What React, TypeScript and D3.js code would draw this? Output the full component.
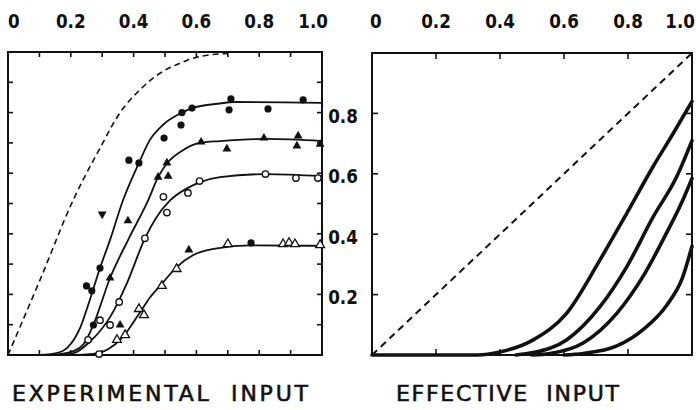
import * as d3 from "d3";
import {useEffect, useRef} from "react";

const W = 696;
const H = 410;

// axis labels
const topTicks = [0, 0.2, 0.4, 0.6, 0.8, 1.0];
const topTickLabels = ["0", "0.2", "0.4", "0.6", "0.8", "1.0"];
const sideTicks = [0.2, 0.4, 0.6, 0.8];
const sideTickLabels = ["0.2", "0.4", "0.6", "0.8"];
const leftTitle = "EXPERIMENTAL  INPUT";
const rightTitle = "EFFECTIVE  INPUT";

// left panel: dashed reference curve and fitted curves
const leftDashed = [[0, 0], [0.102, 0.248], [0.207, 0.51], [0.293, 0.683], [0.357, 0.8], [0.42, 0.875], [0.484, 0.93], [0.548, 0.963], [0.61, 0.985], [0.7, 0.995]];
const fit1 = [[0.1, 0], [0.15, 0.005], [0.19, 0.025], [0.23, 0.09], [0.26, 0.18], [0.293, 0.287], [0.325, 0.38], [0.366, 0.51], [0.417, 0.634], [0.452, 0.71], [0.494, 0.76], [0.554, 0.8], [0.586, 0.815], [0.675, 0.83], [0.72, 0.835], [1.0, 0.832]];
const fit2 = [[0.14, 0], [0.2, 0.01], [0.24, 0.035], [0.272, 0.1], [0.325, 0.254], [0.385, 0.385], [0.447, 0.512], [0.478, 0.587], [0.51, 0.637], [0.557, 0.676], [0.61, 0.7], [0.675, 0.706], [0.825, 0.713], [1.0, 0.706]];
const fit3 = [[0.16, 0], [0.207, 0.005], [0.26, 0.043], [0.325, 0.125], [0.38, 0.24], [0.436, 0.385], [0.47, 0.45], [0.516, 0.51], [0.57, 0.55], [0.61, 0.57], [0.675, 0.587], [0.82, 0.597], [1.0, 0.59]];
const fit4 = [[0.22, 0], [0.29, 0.007], [0.32, 0.02], [0.366, 0.06], [0.42, 0.14], [0.452, 0.19], [0.49, 0.235], [0.537, 0.29], [0.59, 0.33], [0.665, 0.352], [0.77, 0.362], [1.0, 0.36]];

// left panel: measured points
const filledCircles = [[0.25, 0.228], [0.267, 0.212], [0.272, 0.099], [0.293, 0.287], [0.385, 0.643], [0.417, 0.634], [0.497, 0.716], [0.551, 0.759], [0.554, 0.8], [0.586, 0.815], [0.704, 0.809], [0.71, 0.845], [0.774, 0.37], [0.828, 0.812], [0.94, 0.842]];
const filledDown = [[0.3, 0.465]];
const filledTriangles = [[0.325, 0.254], [0.357, 0.099], [0.382, 0.443], [0.478, 0.587], [0.506, 0.634], [0.51, 0.59], [0.576, 0.347], [0.615, 0.703], [0.697, 0.68], [0.815, 0.716], [0.924, 0.723], [0.92, 0.69], [0.994, 0.696]];
const openCircles = [[0.255, 0.05], [0.29, 0.003], [0.293, 0.115], [0.325, 0.099], [0.354, 0.175], [0.436, 0.385], [0.495, 0.522], [0.506, 0.47], [0.573, 0.535], [0.61, 0.574], [0.82, 0.597], [0.917, 0.584], [0.987, 0.584]];
const openTriangles = [[0.347, 0.05], [0.373, 0.066], [0.417, 0.152], [0.433, 0.132], [0.49, 0.228], [0.537, 0.284], [0.7, 0.366], [0.876, 0.366], [0.895, 0.37], [0.914, 0.366], [0.994, 0.363]];

// right panel curves
const rightDashed = [[0, 0], [1, 1]];
const effA = [[0, 0], [0.33, 0], [0.4, 0.01], [0.504, 0.05], [0.608, 0.138], [0.7125, 0.315], [0.796, 0.469], [0.879, 0.625], [0.942, 0.735], [1.0, 0.84]];
const effB = [[0.45, 0], [0.504, 0.008], [0.608, 0.05], [0.7125, 0.16], [0.796, 0.292], [0.879, 0.458], [0.952, 0.59], [1.0, 0.71]];
const effC = [[0.5, 0], [0.556, 0.005], [0.66, 0.04], [0.765, 0.138], [0.848, 0.262], [0.921, 0.405], [0.97, 0.51], [1.0, 0.585]];
const effD = [[0.6, 0], [0.66, 0.005], [0.765, 0.03], [0.848, 0.085], [0.921, 0.165], [0.97, 0.255], [1.0, 0.36]];

const font = "'DejaVu Sans', sans-serif";

const drawFrame = (g, x, y, ticks, len) => {
    g.append("rect")
        .attr("x", x(0)).attr("y", y(1))
        .attr("width", x(1) - x(0)).attr("height", y(0) - y(1))
        .attr("fill", "none").attr("stroke", "#111").attr("stroke-width", 2);
    const tk = g.append("g").attr("stroke", "#111").attr("stroke-width", 1.6);
    ticks.forEach(t => {
        tk.append("line").attr("x1", x(t)).attr("x2", x(t)).attr("y1", y(1)).attr("y2", y(1) + len);
        tk.append("line").attr("x1", x(t)).attr("x2", x(t)).attr("y1", y(0)).attr("y2", y(0) - len);
        tk.append("line").attr("y1", y(t)).attr("y2", y(t)).attr("x1", x(0)).attr("x2", x(0) + len);
        tk.append("line").attr("y1", y(t)).attr("y2", y(t)).attr("x1", x(1)).attr("x2", x(1) - len);
    });
};

// text placed at (x, y), optionally squeezed horizontally
const label = (svg, x, y, txt, size, weight, anchor, squeeze, length) => {
    const t = svg.append("g")
        .attr("transform", "translate(" + x + "," + y + ") scale(" + squeeze + ",1)")
        .append("text")
        .attr("text-anchor", anchor)
        .attr("font-family", font)
        .attr("font-weight", weight)
        .attr("font-size", size)
        .attr("fill", "#111")
        .style("white-space", "pre")
        .text(txt);
    if (length) t.attr("textLength", length / squeeze).attr("lengthAdjust", "spacing");
    return t;
};

const App = () => {
    const ref = useRef(null);

    useEffect(() => {
        const svg = d3.select(ref.current);
        svg.selectAll("*").remove();

        const xL = d3.scaleLinear().domain([0, 1]).range([8, 322]);
        const yL = d3.scaleLinear().domain([0, 1]).range([355, 52]);
        const xR = d3.scaleLinear().domain([0, 1]).range([372, 692]);
        const yR = d3.scaleLinear().domain([0, 1]).range([355, 53]);

        drawFrame(svg.append("g"), xL, yL, d3.range(1, 10).map(i => i / 10), 5);
        drawFrame(svg.append("g"), xR, yR, sideTicks, 6);

        const lineL = d3.line().x(d => xL(d[0])).y(d => yL(d[1])).curve(d3.curveMonotoneX);
        const lineR = d3.line().x(d => xR(d[0])).y(d => yR(d[1])).curve(d3.curveMonotoneX);

        svg.append("path").attr("d", lineL(leftDashed)).attr("fill", "none")
            .attr("stroke", "#111").attr("stroke-width", 1.6).attr("stroke-dasharray", "6,4");
        [fit1, fit2, fit3, fit4].forEach(f => {
            svg.append("path").attr("d", lineL(f)).attr("fill", "none")
                .attr("stroke", "#111").attr("stroke-width", 1.8);
        });

        const tri = d3.symbol().type(d3.symbolTriangle).size(34);
        const tr = d => "translate(" + xL(d[0]) + "," + yL(d[1]) + ")";

        svg.selectAll(".fc").data(filledCircles).enter().append("circle")
            .attr("cx", d => xL(d[0])).attr("cy", d => yL(d[1])).attr("r", 3.6).attr("fill", "#111");
        svg.selectAll(".oc").data(openCircles).enter().append("circle")
            .attr("cx", d => xL(d[0])).attr("cy", d => yL(d[1])).attr("r", 3.2)
            .attr("fill", "#fff").attr("stroke", "#111").attr("stroke-width", 1.4);
        svg.selectAll(".ft").data(filledTriangles).enter().append("path")
            .attr("d", tri()).attr("transform", tr).attr("fill", "#111");
        svg.selectAll(".fd").data(filledDown).enter().append("path")
            .attr("d", tri()).attr("transform", d => tr(d) + " rotate(180)").attr("fill", "#111");
        svg.selectAll(".ot").data(openTriangles).enter().append("path")
            .attr("d", tri()).attr("transform", tr)
            .attr("fill", "#fff").attr("stroke", "#111").attr("stroke-width", 1.3);

        svg.append("path").attr("d", lineR(rightDashed)).attr("fill", "none")
            .attr("stroke", "#111").attr("stroke-width", 2).attr("stroke-dasharray", "7,5");
        [effA, effB, effC, effD].forEach(f => {
            svg.append("path").attr("d", lineR(f)).attr("fill", "none")
                .attr("stroke", "#111").attr("stroke-width", 3.6).attr("stroke-linecap", "round");
        });

        // top tick labels
        const last = topTicks.length - 1;
        const anchor = i => i === 0 ? "start" : i === last ? "end" : "middle";
        [[xL, 0, 6], [xR, -2, 3]].forEach(([x, d0, d1]) => {
            topTicks.forEach((d, i) => {
                const px = x(d) + (i === 0 ? d0 : i === last ? d1 : 0);
                label(svg, px, 28, topTickLabels[i], 20, "bold", anchor(i), 0.84);
            });
        });

        // shared y labels between the panels
        sideTicks.forEach((d, i) => {
            label(svg, 343, yL(d) + 10, sideTickLabels[i], 20, "bold", "middle", 0.84);
        });

        label(svg, 12, 401, leftTitle, 22, "normal", "start", 1, 296).attr("stroke", "#111").attr("stroke-width", 0.6);
        label(svg, 396, 401, rightTitle, 22, "normal", "start", 1, 223).attr("stroke", "#111").attr("stroke-width", 0.6);
    }, []);

    return (
        <svg
            ref={ref}
            width={W}
            height={H}
            style={{position: "absolute", left: 0, top: 0, background: "#fff"}}
        />
    );
};

export default App;
